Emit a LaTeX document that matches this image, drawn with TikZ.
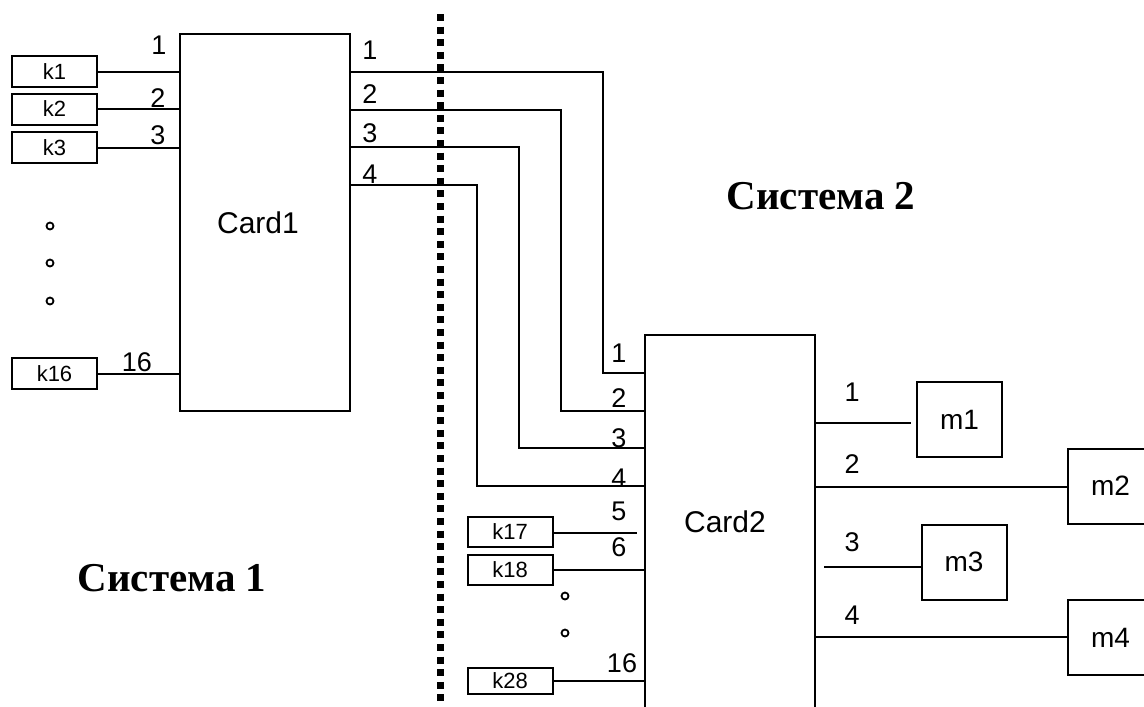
\documentclass[tikz,border=0pt]{standalone}
\usepackage{fontspec}
\setmainfont{Liberation Sans}
\newfontfamily\sysfont{Liberation Serif}
\begin{document}
\begin{tikzpicture}[x=1pt,y=-1pt,
  box/.style={draw,line width=2pt,rectangle,inner sep=0pt,minimum width=85pt},
  kbox/.style={box,minimum height=31pt,font=\fontsize{22}{24}\selectfont},
  mbox/.style={box,minimum height=75pt,font=\fontsize{28}{30}\selectfont},
  card/.style={draw,line width=2pt,rectangle,inner sep=0pt,minimum width=170pt,font=\fontsize{30}{32}\selectfont},
  pin/.style={inner sep=0pt,font=\fontsize{27}{29}\selectfont},
  sys/.style={inner sep=0pt,font=\sysfont\bfseries\fontsize{41}{43}\selectfont},
  dotc/.style={circle,draw,line width=1.8pt,inner sep=0pt,minimum size=7pt},
  wire/.style={draw,line width=2pt}]
\useasboundingbox (0,0) rectangle (1144,707);
\clip (0,0) rectangle (1144,707);
\fill[white] (0,0) rectangle (1144,707);
% cards
\node[card,minimum height=377pt] (card1) at (265,222.5) {\hspace*{-14pt}Card1};
\node[card,minimum height=374pt] (card2) at (730,522) {\hspace*{-10pt}Card2};
% k boxes left
\node[kbox] (k1) at (54.5,71.5) {k1};
\node[kbox] (k2) at (54.5,109) {k2};
\node[kbox] (k3) at (54.5,147.5) {k3};
\node[kbox] (k16) at (54.5,373.5) {k16};
\node[kbox,minimum height=30pt] (k17) at (510,532) {k17};
\node[kbox,minimum height=30pt] (k18) at (510,570) {k18};
\node[kbox,minimum height=26pt] (k28) at (510,681) {k28};
% m boxes
\node[mbox] (m1) at (959.5,419.5) {m1};
\node[mbox] (m2) at (1110.5,486) {m2};
\node[mbox] (m3) at (964,562) {m3};
\node[mbox] (m4) at (1110.5,637.5) {m4};
% dots
\node[dotc] (d1) at (50,226) {};
\node[dotc] (d2) at (50,263) {};
\node[dotc] (d3) at (50,301) {};
\node[dotc] (d4) at (565,596) {};
\node[dotc] (d5) at (565,633) {};
% ports
\coordinate (c1o1) at (350,72);
\coordinate (c1o2) at (350,110);
\coordinate (c1o3) at (350,147);
\coordinate (c1o4) at (350,185);
\coordinate (c2i1) at (645,373);
\coordinate (c2i2) at (645,411);
\coordinate (c2i3) at (645,448);
\coordinate (c2i4) at (645,486);
\coordinate (k17end) at (637,533);
\coordinate (c2o1) at (815,423);
\coordinate (c2o2) at (815,487);
\coordinate (m3start) at (824,567);
\coordinate (c2o4) at (815,637);
% left wires
\draw[wire] (k1.east) -- (k1.east -| card1.west);
\draw[wire] (k2.east) -- (k2.east -| card1.west);
\draw[wire] (k3.east) -- (k3.east -| card1.west);
\draw[wire] (k16.east) -- (k16.east -| card1.west);
% card1 -> card2
\draw[wire] (c1o1) -- ++(253,0) |- (c2i1);
\draw[wire] (c1o2) -- ++(211,0) |- (c2i2);
\draw[wire] (c1o3) -- ++(169,0) |- (c2i3);
\draw[wire] (c1o4) -- ++(127,0) |- (c2i4);
% card2 left inputs
\draw[wire] (k17.east |- k17end) -- (k17end);
\draw[wire] (k18.east) -- (k18.east -| card2.west);
\draw[wire] (k28.east) -- ([xshift=2pt]k28.east -| card2.west);
% card2 outputs
\draw[wire] (c2o1) -- ([xshift=-5pt]c2o1 -| m1.west);
\draw[wire] (c2o2) -- (c2o2 -| m2.west);
\draw[wire] (m3start) -- (m3start -| m3.west);
\draw[wire] (c2o4) -- (c2o4 -| m4.west);
% divider
\coordinate (divtop) at (440,14);
\coordinate (divbot) at (440,707);
\draw[line width=7pt,dash pattern=on 7pt off 5.6pt] (divtop) -- (divbot);
% pin labels
\node[pin] (l1a) at (159,45) {1};
\node[pin] (l1b) at (158,98) {2};
\node[pin] (l1c) at (158,135) {3};
\node[pin] (l1d) at (137,362) {16};
\node[pin] (r1a) at (370,50) {1};
\node[pin] (r1b) at (370,94) {2};
\node[pin] (r1c) at (370,133) {3};
\node[pin] (r1d) at (370,174) {4};
\node[pin] (l2a) at (619,353) {1};
\node[pin] (l2b) at (619,398) {2};
\node[pin] (l2c) at (619,438) {3};
\node[pin] (l2d) at (619,478) {4};
\node[pin] (l2e) at (619,511) {5};
\node[pin] (l2f) at (619,547) {6};
\node[pin] (l2g) at (622,663) {16};
\node[pin] (r2a) at (852,392) {1};
\node[pin] (r2b) at (852,464) {2};
\node[pin] (r2c) at (852,542) {3};
\node[pin] (r2d) at (852,615) {4};
% system labels
\node[sys] (s1) at (172,578) {Система 1};
\node[sys] (s2) at (821,196) {Система 2};
\end{tikzpicture}
\end{document}
